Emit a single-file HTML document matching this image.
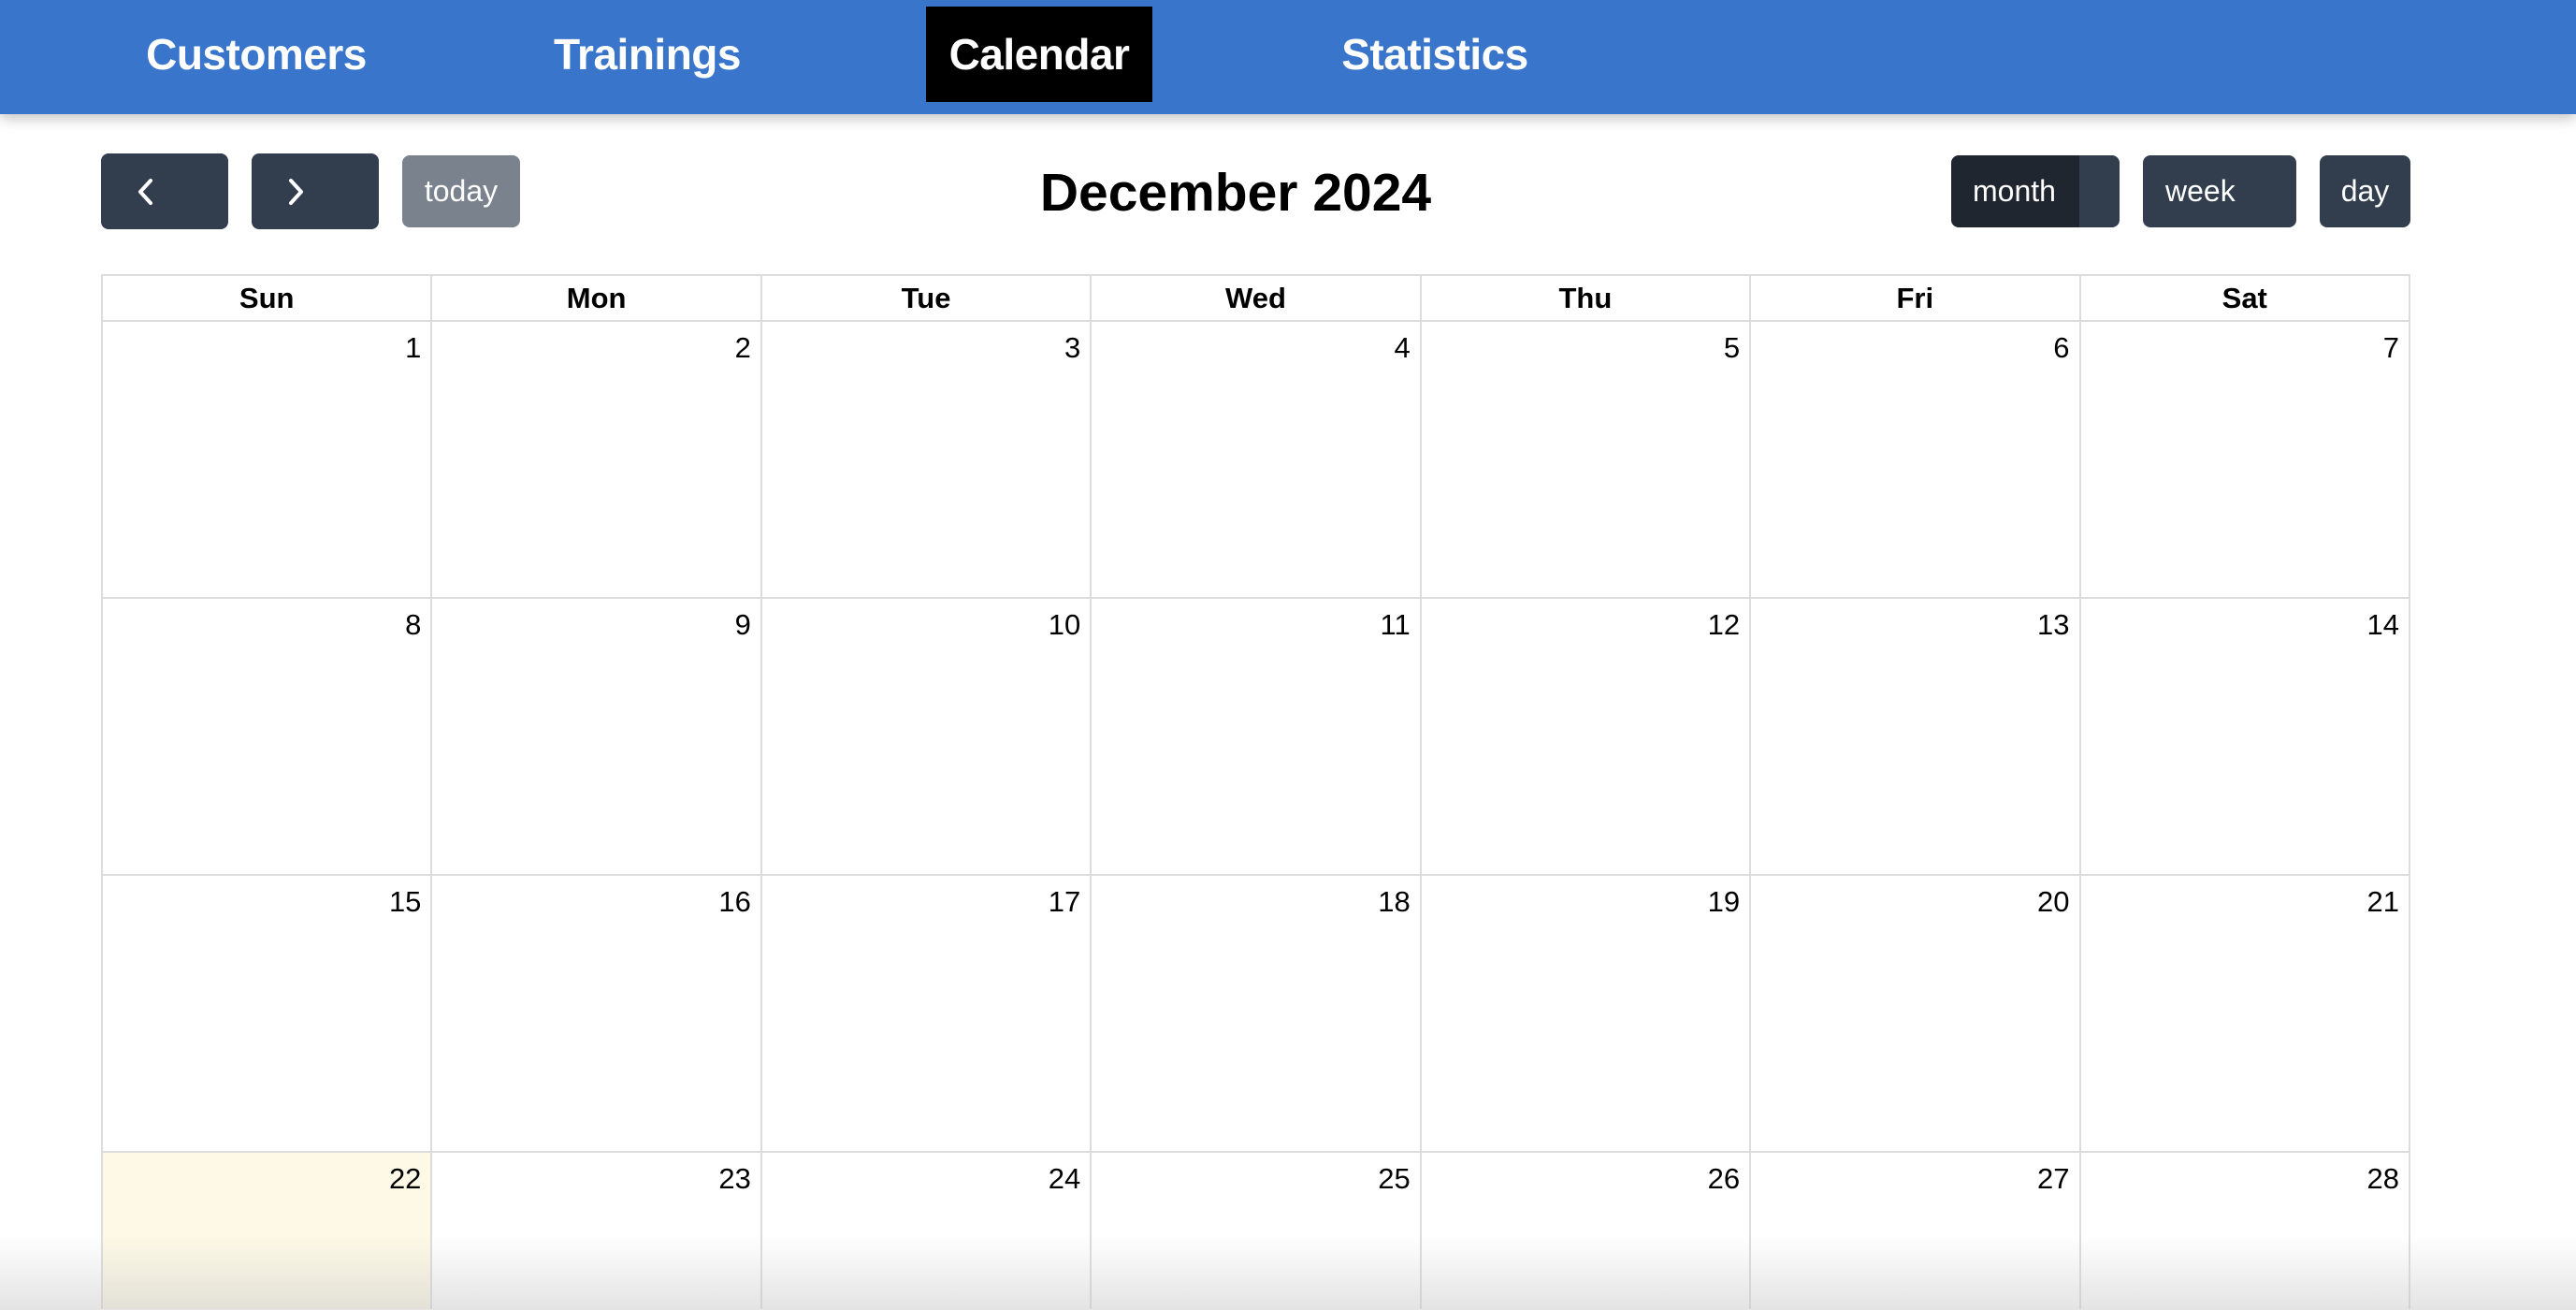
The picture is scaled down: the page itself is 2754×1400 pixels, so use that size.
<!DOCTYPE html>
<html style="width:2754px;height:1400px;overflow:hidden"><head><meta charset="utf-8"><style>
*{margin:0;padding:0;box-sizing:border-box}
html,body{width:2754px;height:1400px;overflow:hidden}
body{background:#fff;font-family:"Liberation Sans",sans-serif;position:relative}
#nav{position:absolute;left:0;top:0;width:2754px;height:122px;background:#3a75cc;box-shadow:0 4px 14px rgba(0,0,0,.25);z-index:2}
.nl{position:absolute;top:7px;height:102px;line-height:102px;color:#fff;font-weight:bold;font-size:46px;letter-spacing:-0.5px;text-align:center}
.btn{position:absolute;top:166px;height:77px;border-radius:8px;background:#323d4e;color:#fff;font-size:32px;line-height:77px}
#title{position:absolute;left:1090px;width:462px;top:170px;text-align:center;font-size:57px;font-weight:bold;line-height:72px;color:#000}
#grid{position:absolute;left:108px;top:293px;width:2469px;border-collapse:collapse;table-layout:fixed}
#grid td,#grid th{border:2px solid #dcdcdc}
#grid th{height:49px;font-size:31px;font-weight:bold;color:#000}
#grid td{height:296px;vertical-align:top;text-align:right;padding:10px 10px 0 0;font-size:31px;color:#000}
#grid tr.last td{height:168px;border-bottom:none}
#shade{position:absolute;left:0;top:1320px;width:2754px;height:80px;background:linear-gradient(rgba(200,200,200,0),rgba(200,200,200,.5));z-index:3;pointer-events:none}
</style></head><body>
<div id="nav">
<div class="nl" style="left:140px;width:268px">Customers</div>
<div class="nl" style="left:577px;width:230px">Trainings</div>
<div class="nl" style="left:990px;width:242px;background:#000">Calendar</div>
<div class="nl" style="left:1416px;width:236px">Statistics</div>
</div>
<div class="btn" style="left:108px;width:136px;top:164px;height:81px">
<svg width="136" height="81"><polyline points="53,29 42,41 53,53" fill="none" stroke="#fff" stroke-width="4" stroke-linecap="round" stroke-linejoin="round"/></svg></div>
<div class="btn" style="left:269px;width:136px;top:164px;height:81px">
<svg width="136" height="81"><polyline points="42,29 53,41 42,53" fill="none" stroke="#fff" stroke-width="4" stroke-linecap="round" stroke-linejoin="round"/></svg></div>
<div class="btn" style="left:430px;width:126px;background:#7a828d;text-align:center">today</div>
<div id="title">December 2024</div>
<div class="btn" style="left:2086px;width:180px;background:linear-gradient(90deg,#1f262f 0,#1f262f 137px,#323d4e 137px);padding-left:23px">month</div>
<div class="btn" style="left:2291px;width:164px;padding-left:24px">week</div>
<div class="btn" style="left:2480px;width:97px;text-align:center">day</div>
<table id="grid">
<tr>
<th>Sun</th><th>Mon</th><th>Tue</th><th>Wed</th><th>Thu</th><th>Fri</th><th>Sat</th></tr>
<tr><td>1</td><td>2</td><td>3</td><td>4</td><td>5</td><td>6</td><td>7</td></tr>
<tr><td>8</td><td>9</td><td>10</td><td>11</td><td>12</td><td>13</td><td>14</td></tr>
<tr><td>15</td><td>16</td><td>17</td><td>18</td><td>19</td><td>20</td><td>21</td></tr>
<tr class="last"><td style="background:#fef9e6">22</td><td>23</td><td>24</td><td>25</td><td>26</td><td>27</td><td>28</td></tr>
</table>
<div id="shade"></div>
</body></html>
